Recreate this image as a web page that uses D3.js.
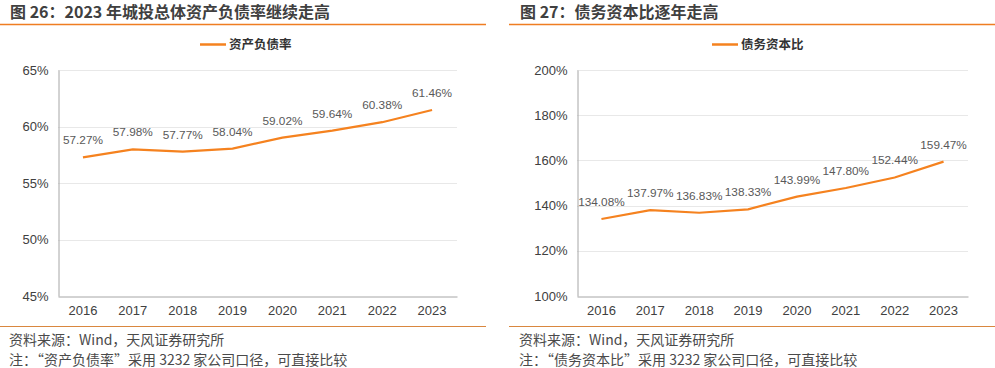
<!DOCTYPE html>
<html><head><meta charset="utf-8">
<script src="https://cdn.jsdelivr.net/npm/d3@7"></script>
<style>
html,body{margin:0;padding:0;background:#fff;}
svg{display:block;}
</style></head>
<body>
<svg id="c" width="995" height="368"></svg>
<script>
const categories = ["2016","2017","2018","2019","2020","2021","2022","2023"];
const leverageValues = [57.27,57.98,57.77,58.04,59.02,59.64,60.38,61.46];
const debtCapitalValues = [134.08,137.97,136.83,138.33,143.99,147.80,152.44,159.47];
const leverageTicks = [45,50,55,60,65];
const debtCapitalTicks = [100,120,140,160,180,200];
const titles = ["图 26：2023 年城投总体资产负债率继续走高","图 27：债务资本比逐年走高"];
const legendNames = ["资产负债率","债务资本比"];
const sourceText = "资料来源：Wind，天风证券研究所";
const notes = ["注：“资产负债率”采用 3232 家公司口径，可直接比较","注：“债务资本比”采用 3232 家公司口径，可直接比较"];

const ORANGE = "#f5821f";
const CJK = "'Noto Sans CJK SC','Noto Sans',sans-serif";
const LAT = "'Liberation Sans',Arial,sans-serif";
const svg = d3.select("#c");

const panels = [
  {x0:0, x1:486, textX:10, plotL:58, plotR:457, legX:200, values:leverageValues, ticks:leverageTicks, title:titles[0], legend:legendNames[0], note:notes[0]},
  {x0:509, x1:995, textX:520, plotL:577, plotR:968, legX:712, values:debtCapitalValues, ticks:debtCapitalTicks, title:titles[1], legend:legendNames[1], note:notes[1]}
];
const plotTop = 70, plotBottom = 296;

panels.forEach(p => {
  const g = svg.append("g");
  // title
  g.append("text").attr("x", p.textX).attr("y", 18)
    .attr("font-family", CJK).attr("font-weight", "bold").attr("font-size", 16)
    .attr("fill", "#404040").text(p.title);
  g.append("line").attr("x1", p.x0).attr("x2", p.x1).attr("y1", 24.5).attr("y2", 24.5)
    .attr("stroke", "#ef7d22").attr("stroke-width", 1.3);
  // legend
  g.append("line").attr("x1", p.legX).attr("x2", p.legX + 26).attr("y1", 44.5).attr("y2", 44.5)
    .attr("stroke", ORANGE).attr("stroke-width", 2.5);
  g.append("text").attr("x", p.legX + 29).attr("y", 49)
    .attr("font-family", CJK).attr("font-weight", "bold").attr("font-size", 12.5)
    .attr("fill", "#333").text(p.legend);

  const x = d3.scaleBand().domain(categories).range([p.plotL, p.plotR]);
  const y = d3.scaleLinear().domain(d3.extent(p.ticks)).range([plotBottom, plotTop]);

  // gridlines
  g.selectAll(".grid").data(p.ticks.slice(1)).enter().append("line")
    .attr("x1", p.plotL).attr("x2", p.plotR)
    .attr("y1", d => Math.round(y(d)) + 0.5).attr("y2", d => Math.round(y(d)) + 0.5)
    .attr("stroke", "#e8e8e8").attr("stroke-width", 1);

  // y axis
  const ya = g.append("g").attr("transform", `translate(${p.plotL + 0.5},0)`)
    .call(d3.axisLeft(y).tickValues(p.ticks).tickSize(0).tickPadding(10).tickFormat(d => d + "%"));
  ya.select(".domain").attr("stroke", "#a6a6a6");
  ya.selectAll("text").attr("font-family", LAT).attr("font-size", 13).attr("fill", "#404040");

  // x axis
  const xa = g.append("g").attr("transform", `translate(0,${plotBottom + 0.5})`)
    .call(d3.axisBottom(x).tickSize(0).tickPadding(9));
  xa.select(".domain").attr("stroke", "#a6a6a6");
  xa.selectAll("text").attr("font-family", LAT).attr("font-size", 13).attr("fill", "#404040");

  // line
  const line = d3.line().x((d, i) => x(categories[i]) + x.bandwidth() / 2).y(d => y(d));
  g.append("path").datum(p.values).attr("d", line)
    .attr("fill", "none").attr("stroke", ORANGE).attr("stroke-width", 2.2);

  // data labels
  g.selectAll(".lab").data(p.values).enter().append("text")
    .attr("x", (d, i) => x(categories[i]) + x.bandwidth() / 2)
    .attr("y", d => y(d) - 13)
    .attr("text-anchor", "middle")
    .attr("font-family", LAT).attr("font-size", 11.8).attr("fill", "#595959")
    .text(d => d.toFixed(2) + "%");

  // footer
  g.append("line").attr("x1", p.x0).attr("x2", p.x1).attr("y1", 326.5).attr("y2", 326.5)
    .attr("stroke", "#d9873f").attr("stroke-width", 1.2);
  g.append("text").attr("x", p.textX - 1).attr("y", 345)
    .attr("font-family", CJK).attr("font-size", 14).attr("fill", "#4a4a4a").text(sourceText);
  g.append("text").attr("x", p.textX - 1).attr("y", 365)
    .attr("font-family", CJK).attr("font-size", 14).attr("fill", "#4a4a4a").text(p.note);
});
</script>
</body></html>
